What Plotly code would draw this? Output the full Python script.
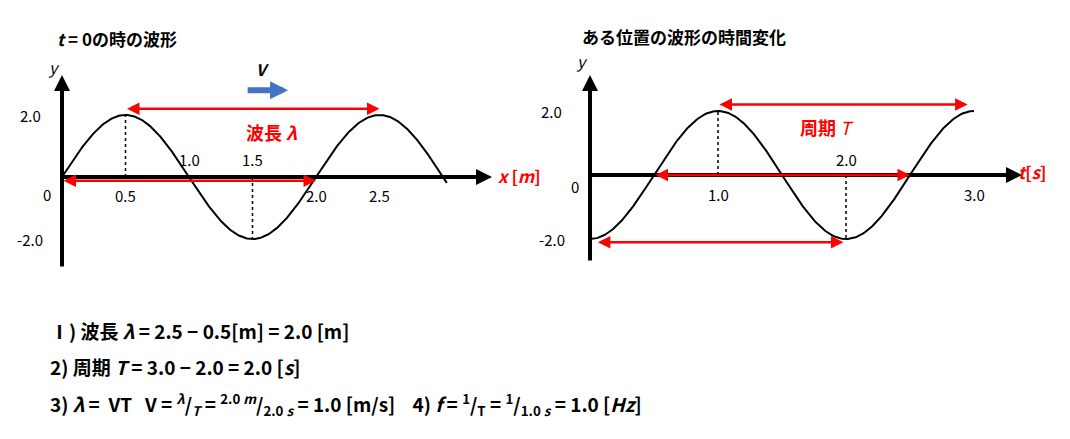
import numpy as np
import plotly.graph_objects as go

W, H = 1070, 439
OFF = 8  # page body margin
# data
left_ticks_x = [0.5, 1.0, 1.5, 2.0, 2.5]
left_tick_labels = ["0.5", "1.0", "1.5", "2.0", "2.5"]
right_ticks_t = [1.0, 2.0, 3.0]
right_tick_labels = ["1.0", "2.0", "3.0"]
amplitude = 2.0
wavelength = 2.0
period = 2.0
x_end = 3.03
t_end = 3.0
eq_lines = [
    "<b>Ⅰ) 波長 <i>λ</i> = 2.5 − 0.5[m] = 2.0 [m]</b>",
    "<b>2) 周期 <i>T</i> = 3.0 − 2.0 = 2.0 [<i>s</i>]</b>",
    "<b>3) <i>λ</i> =  VT   V = <sup><i>λ</i></sup>/<sub><i>T</i></sub> = <sup>2.0 <i>m</i></sup>/<sub>2.0 <i>s</i></sub> = 1.0 [m/s]    4) <i>f</i> = <sup>1</sup>/<sub>T</sub> = <sup>1</sup>/<sub>1.0 <i>s</i></sub> = 1.0 [<i>Hz</i>]</b>",
]

x = np.linspace(0, x_end, 400)
yl = amplitude * np.sin(2 * np.pi * x / wavelength)
t = np.linspace(0, t_end, 400)
yr = -amplitude * np.cos(2 * np.pi * t / period)

def dom_x(p0, p1): return [(p0 - OFF) / W, (p1 - OFF) / W]
def dom_y(top, bot): return [(H - (bot - OFF)) / H, (H - (top - OFF)) / H]

LX0, LSX, LY0, LSY = 62, 127, 177, 31
RX0, RSX, RY0, RSY = 590, 128, 175, 32

fig = go.Figure()
fig.add_trace(go.Scatter(x=x, y=yl, mode="lines", line=dict(color="black", width=2), xaxis="x", yaxis="y"))
fig.add_trace(go.Scatter(x=t, y=yr, mode="lines", line=dict(color="black", width=2), xaxis="x2", yaxis="y2"))
for xx, yy, xa, ya in [(0.5, 2, "x", "y"), (1.5, -2, "x", "y"), (1.0, 2, "x2", "y2"), (2.0, -2, "x2", "y2")]:
    fig.add_trace(go.Scatter(x=[xx, xx], y=[0, yy], mode="lines", line=dict(color="black", width=1.5, dash="dot"), xaxis=xa, yaxis=ya))

ax_common = dict(visible=False, fixedrange=True)
fig.update_layout(
    width=W, height=H, margin=dict(l=0, r=0, t=0, b=0), showlegend=False,
    plot_bgcolor="white", paper_bgcolor="white",
    font=dict(family="Noto Sans CJK JP", color="black"),
    xaxis=dict(domain=dom_x(10, 535), range=[(10 - LX0) / LSX, (535 - LX0) / LSX], **ax_common),
    yaxis=dict(domain=dom_y(60, 280), range=[(LY0 - 280) / LSY, (LY0 - 60) / LSY], **ax_common),
    xaxis2=dict(domain=dom_x(536, 1060), range=[(536 - RX0) / RSX, (1060 - RX0) / RSX], **ax_common),
    yaxis2=dict(domain=dom_y(60, 280), range=[(RY0 - 280) / RSY, (RY0 - 60) / RSY], **ax_common),
)

ann = []
def arrow(x0, y0, x1, y1, xa, ya, color, width, both=False, head=2, size=1):
    ann.append(dict(x=x1, y=y1, ax=x0, ay=y0, xref=xa, yref=ya, axref=xa, ayref=ya, text="",
                    showarrow=True, arrowhead=head, startarrowhead=head, arrowsize=size, startarrowsize=size,
                    arrowwidth=width, arrowcolor=color, arrowside="end+start" if both else "end"))
def txt(xv, yv, s, xa, ya, size=14, color="black", xanchor="center"):
    ann.append(dict(x=xv, y=yv, xref=xa, yref=ya, text=s, showarrow=False, font=dict(size=size, color=color), xanchor=xanchor))
def ptxt(px, py, s, size):
    ann.append(dict(x=(px - OFF) / W, y=1 - (py - OFF) / H, xref="paper", yref="paper", text=s, showarrow=False,
                    xanchor="left", yanchor="middle", font=dict(size=size)))

arrow(0, (LY0 - 268) / LSY, 0, (LY0 - 75) / LSY, "x", "y", "black", 4, size=0.8)
arrow(0, 0, (492 - LX0) / LSX, 0, "x", "y", "black", 4, size=0.8)
arrow(0, (RY0 - 262) / RSY, 0, (RY0 - 75) / RSY, "x2", "y2", "black", 4, size=0.8)
arrow(0, 0, (1022 - RX0) / RSX, 0, "x2", "y2", "black", 4, size=0.8)
arrow(0.5, 2.2, 2.5, 2.2, "x", "y", "red", 2.5, both=True)
arrow(0.0, -0.12, 2.0, -0.12, "x", "y", "red", 2.5, both=True)
arrow(1.0, 2.2, 2.95, 2.2, "x2", "y2", "red", 2.5, both=True)
arrow(0.5, 0, 2.5, 0, "x2", "y2", "red", 2.5, both=True)
arrow(0.05, -2.1, 1.98, -2.1, "x2", "y2", "red", 2.5, both=True)
arrow(1.45, 2.8, 1.78, 2.8, "x", "y", "#4472C4", 6, head=2, size=0.6)
txt(1.58, 3.5, "<b><i>V</i></b>", "x", "y", 16)

for xv, lab in zip(left_ticks_x, left_tick_labels):
    yv = 0.55 if xv in (1.0, 1.5) else -0.6
    txt(xv, yv, lab, "x", "y", 15)
txt(-0.12, -0.55, "0", "x", "y", 15)
txt(-0.25, 2.0, "2.0", "x", "y", 15)
txt(-0.25, -2.0, "-2.0", "x", "y", 15)
txt(0.0, 3.55, "<i>y</i>", "x", "y", 16, xanchor="right")
txt(3.6, 0.05, "<b><i>x</i> [<i>m</i>]</b>", "x", "y", 17, "red")
txt(1.65, 1.45, "<b>波長 <i>λ</i></b>", "x", "y", 18, "red")
ptxt(55, 38, "<b><i>t</i> = 0の時の波形</b>", 17)

for xv, lab in zip(right_ticks_t, right_tick_labels):
    yv = 0.5 if xv == 2.0 else -0.6
    txt(xv, yv, lab, "x2", "y2", 15)
txt(-0.12, -0.35, "0", "x2", "y2", 15)
txt(-0.3, 2.0, "2.0", "x2", "y2", 15)
txt(-0.3, -2.0, "-2.0", "x2", "y2", 15)
txt(0.0, 3.55, "<i>y</i>", "x2", "y2", 16, xanchor="right")
txt(3.45, 0.1, "<b><i>t</i>[<i>s</i>]</b>", "x2", "y2", 17, "red")
txt(1.85, 1.5, "<b>周期 </b><i>T</i>", "x2", "y2", 18, "red")
ptxt(580, 36, "<b>ある位置の波形の時間変化</b>", 17)

for s, yp in zip(eq_lines, [330, 366, 404]):
    ptxt(48, yp, s, 19)

fig.update_layout(annotations=ann)
fig.write_html("out.html")
